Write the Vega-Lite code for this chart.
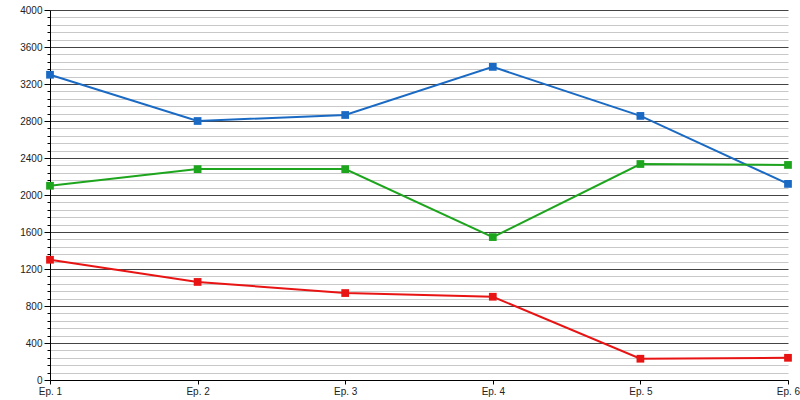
{
  "$schema": "https://vega.github.io/schema/vega-lite/v6.json",
  "autosize": "none",
  "width": 738,
  "height": 370,
  "padding": {"left": 50, "top": 10, "right": 12, "bottom": 20},
  "background": "white",
  "config": {
    "view": {"stroke": null},
    "font": "Liberation Sans",
    "axis": {"labelFont": "Liberation Sans", "labelFontSize": 10, "labelColor": "#222", "domainColor": "#000", "tickColor": "#000"}
  },
  "data": {
    "values": [
      {"ep": "Ep. 1", "series": "A", "value": 3300},
      {"ep": "Ep. 2", "series": "A", "value": 2800},
      {"ep": "Ep. 3", "series": "A", "value": 2865},
      {"ep": "Ep. 4", "series": "A", "value": 3385},
      {"ep": "Ep. 5", "series": "A", "value": 2855},
      {"ep": "Ep. 6", "series": "A", "value": 2120},
      {"ep": "Ep. 1", "series": "B", "value": 2100},
      {"ep": "Ep. 2", "series": "B", "value": 2280},
      {"ep": "Ep. 3", "series": "B", "value": 2280},
      {"ep": "Ep. 4", "series": "B", "value": 1545},
      {"ep": "Ep. 5", "series": "B", "value": 2335},
      {"ep": "Ep. 6", "series": "B", "value": 2325},
      {"ep": "Ep. 1", "series": "C", "value": 1300},
      {"ep": "Ep. 2", "series": "C", "value": 1060},
      {"ep": "Ep. 3", "series": "C", "value": 940},
      {"ep": "Ep. 4", "series": "C", "value": 900},
      {"ep": "Ep. 5", "series": "C", "value": 230},
      {"ep": "Ep. 6", "series": "C", "value": 240}
    ]
  },
  "encoding": {
    "x": {
      "field": "ep", "type": "ordinal",
      "scale": {"type": "point", "padding": 0},
      "axis": {"title": null, "labelAngle": 0, "grid": false, "tickSize": 4, "labelPadding": 2, "domainWidth": 1}
    },
    "y": {
      "field": "value", "type": "quantitative",
      "scale": {"domain": [0, 4000], "nice": false},
      "axis": {
        "title": null,
        "values": [0,80,160,240,320,400,480,560,640,720,800,880,960,1040,1120,1200,1280,1360,1440,1520,1600,1680,1760,1840,1920,2000,2080,2160,2240,2320,2400,2480,2560,2640,2720,2800,2880,2960,3040,3120,3200,3280,3360,3440,3520,3600,3680,3760,3840,3920,4000],
        "labelExpr": "datum.value % 400 === 0 ? datum.label : ''",
        "format": "d",
        "grid": true,
        "gridColor": {"condition": {"test": "datum.value % 400 === 0", "value": "#444"}, "value": "#c8c8c8"},
        "tickSize": {"condition": {"test": "datum.value % 400 === 0", "value": 6}, "value": 3},
        "labelPadding": 2,
        "labelBaseline": "middle"
      }
    },
    "color": {
      "field": "series", "type": "nominal",
      "scale": {"domain": ["A", "B", "C"], "range": ["#1a6ac4", "#1ea51e", "#e81414"]},
      "legend": null
    }
  },
  "layer": [
    {"mark": {"type": "line", "strokeWidth": 2}},
    {"mark": {"type": "point", "shape": "square", "filled": true, "opacity": 1, "size": 60}}
  ]
}
